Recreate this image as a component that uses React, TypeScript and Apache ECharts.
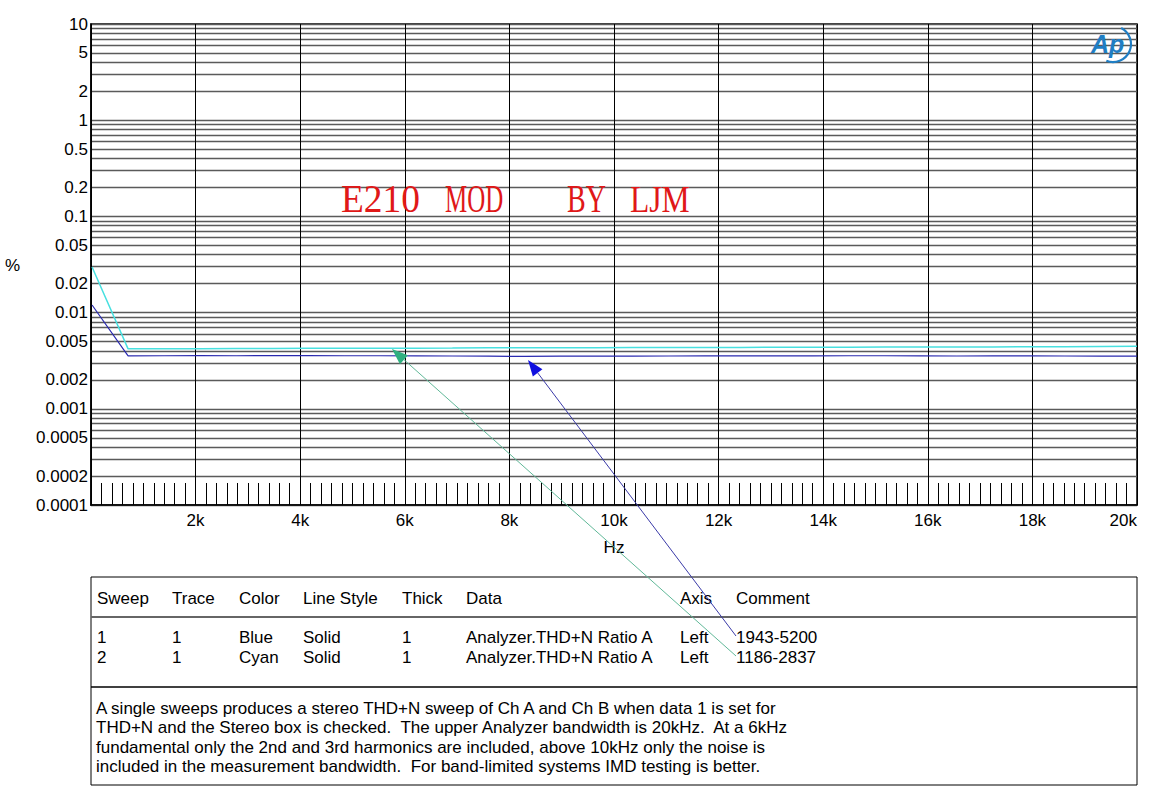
import React, { useEffect, useRef } from 'react';
import * as echarts from 'echarts';

// ---------- data ----------
const freqHz = [20, 709, 1398, 2087, 2776, 3465, 4154, 4843, 5532, 6221, 6910, 7599, 8288, 8977, 9666,
  10355, 11044, 11733, 12422, 13111, 13800, 14489, 15178, 15867, 16556, 17245, 17934, 18623, 19312, 20000];
const blueThd = [0.0120, 0.00355, 0.00356, 0.00357, 0.00356, 0.00357, 0.00357, 0.00356, 0.00356, 0.00355,
  0.00354, 0.00352, 0.00350, 0.00352, 0.00353, 0.00352, 0.00354, 0.00355, 0.00356, 0.00355,
  0.00355, 0.00356, 0.00356, 0.00355, 0.00354, 0.00355, 0.00355, 0.00354, 0.00353, 0.00353];
const cyanThd = [0.0298, 0.00420, 0.00421, 0.00422, 0.00423, 0.00424, 0.00425, 0.00426, 0.00426, 0.00427,
  0.00428, 0.00430, 0.00431, 0.00432, 0.00432, 0.00433, 0.00434, 0.00434, 0.00435, 0.00436,
  0.00436, 0.00437, 0.00438, 0.00439, 0.00440, 0.00440, 0.00441, 0.00442, 0.00444, 0.00446];

const yGridValues = [
  0.0001, 0.0002, 0.0003, 0.0004, 0.0005, 0.0006, 0.0007, 0.0008, 0.0009,
  0.001, 0.002, 0.003, 0.004, 0.005, 0.006, 0.007, 0.008, 0.009,
  0.01, 0.02, 0.03, 0.04, 0.05, 0.06, 0.07, 0.08, 0.09,
  0.1, 0.2, 0.3, 0.4, 0.5, 0.6, 0.7, 0.8, 0.9,
  1, 2, 3, 4, 5, 6, 7, 8, 9, 10,
];
const yLabelValues = [10, 5, 2, 1, 0.5, 0.2, 0.1, 0.05, 0.02, 0.01, 0.005, 0.002, 0.001, 0.0005, 0.0002, 0.0001];
const xMin = 0;
const xMax = 20000;
const xInterval = 2000;

const tableHeaders = ['Sweep', 'Trace', 'Color', 'Line Style', 'Thick', 'Data', 'Axis', 'Comment'];
const tableRows = [
  ['1', '1', 'Blue', 'Solid', '1', 'Analyzer.THD+N Ratio A', 'Left', '1943-5200'],
  ['2', '1', 'Cyan', 'Solid', '1', 'Analyzer.THD+N Ratio A', 'Left', '1186-2837'],
];
const noteLines = [
  'A single sweeps produces a stereo THD+N sweep of Ch A and Ch B when data 1 is set for',
  'THD+N and the Stereo box is checked.  The upper Analyzer bandwidth is 20kHz.  At a 6kHz',
  'fundamental only the 2nd and 3rd harmonics are included, above 10kHz only the noise is',
  'included in the measurement bandwidth.  For band-limited systems IMD testing is better.',
];
const titleWords = ['E210', 'MOD', 'BY', 'LJM'];

// ---------- layout ----------
const colX = [97, 172, 239, 303, 402, 466, 680, 736];
const titleX = [341, 445, 567, 630];
const titleScale = [0.96, 0.64, 0.72, 0.81];
const FONT = 'Liberation Sans, Arial, sans-serif';
const FS = 17;

function arrow(tail: number[], tip: number[], lineColor: string, headColor: string) {
  const dx = tip[0] - tail[0];
  const dy = tip[1] - tail[1];
  const len = Math.sqrt(dx * dx + dy * dy);
  const ux = dx / len;
  const uy = dy / len;
  const hl = 16;
  const hw = 6;
  const bx = tip[0] - ux * hl;
  const by = tip[1] - uy * hl;
  const nx = -uy;
  const ny = ux;
  return [
    {
      type: 'line',
      shape: { x1: tail[0], y1: tail[1], x2: bx, y2: by },
      style: { stroke: lineColor, lineWidth: 1 },
      z: 100,
    },
    {
      type: 'polygon',
      shape: { points: [tip, [bx + nx * hw, by + ny * hw], [bx - nx * hw, by - ny * hw]] },
      style: { fill: headColor },
      z: 100,
    },
  ];
}

export default function App() {
  const ref = useRef<HTMLDivElement>(null);
  useEffect(() => {
    document.body.style.margin = '0';
    const chart = echarts.init(ref.current!, undefined, { renderer: 'svg' });

    const graphics: any[] = [];
    // y-axis unit
    graphics.push({ type: 'text', x: 5, y: 265, style: { text: '%', font: `${FS}px ${FONT}`, fill: '#000', verticalAlign: 'middle' } });
    // red title
    titleWords.forEach((w, i) => {
      graphics.push({
        type: 'text', x: titleX[i], y: 199, scaleX: titleScale[i],
        style: { text: w, font: `39px "Liberation Serif", serif`, fill: '#e01818', verticalAlign: 'middle' },
        z: 50,
      });
    });
    // logo
    graphics.push({
      type: 'text', x: 1091, y: 44,
      style: { text: 'Ap', font: `italic bold 25px ${FONT}`, fill: '#1f7ec4', verticalAlign: 'middle' },
      z: 60,
    });
    graphics.push({
      type: 'arc', shape: { cx: 1113, cy: 44, r: 18, startAngle: -1.1, endAngle: 1.95 },
      style: { stroke: '#1f7ec4', lineWidth: 2.2, fill: 'none' }, z: 60,
    });
    // table
    graphics.push({ type: 'rect', shape: { x: 91, y: 577, width: 1046, height: 208 }, style: { stroke: '#000', lineWidth: 1, fill: 'none' } });
    graphics.push({ type: 'line', shape: { x1: 91, y1: 617, x2: 1137, y2: 617 }, style: { stroke: '#666', lineWidth: 2 } });
    graphics.push({ type: 'line', shape: { x1: 91, y1: 687, x2: 1137, y2: 687 }, style: { stroke: '#000', lineWidth: 1.5 } });
    tableHeaders.forEach((h, i) => {
      graphics.push({ type: 'text', x: colX[i], y: 598, style: { text: h, font: `${FS}px ${FONT}`, fill: '#000', verticalAlign: 'middle' } });
    });
    tableRows.forEach((row, r) => {
      row.forEach((c, i) => {
        graphics.push({ type: 'text', x: colX[i], y: 637 + r * 20, style: { text: c, font: `${FS}px ${FONT}`, fill: '#000', verticalAlign: 'middle' } });
      });
    });
    noteLines.forEach((t, i) => {
      graphics.push({ type: 'text', x: 96, y: 708 + i * 19.6, style: { text: t, font: `${FS}px ${FONT}`, fill: '#000', verticalAlign: 'middle' } });
    });
    // arrows
    graphics.push(...arrow([736, 636], [528, 360], '#3a3aa8', '#1010e0'));
    graphics.push(...arrow([736, 656], [392, 349], '#60b898', '#30b080'));

    chart.setOption({
      animation: false,
      backgroundColor: '#fff',
      textStyle: { fontFamily: FONT },
      grid: { left: 91, right: 27, top: 24, height: 481, show: true, borderColor: '#000', borderWidth: 1.5, outerBoundsMode: 'none' },
      xAxis: {
        type: 'value', min: xMin, max: xMax, interval: xInterval,
        name: 'Hz', nameLocation: 'middle', nameGap: 34, nameTextStyle: { fontSize: FS, color: '#000' },
        axisLine: { show: true, lineStyle: { color: '#000', width: 1.5 } },
        axisTick: { show: false, inside: true },
        minorTick: { show: true, splitNumber: 10, length: 22, lineStyle: { color: '#000', width: 1 } },
        splitLine: { show: true, lineStyle: { color: '#000', width: 1 } },
        axisLabel: {
          fontSize: FS, color: '#000', margin: 7, showMinLabel: false, alignMaxLabel: 'right',
          formatter: (v: number) => `${v / 1000}k`,
        },
      },
      yAxis: {
        type: 'log', min: 0.0001, max: 10, logBase: 10,
        axisLine: { show: true, lineStyle: { color: '#000', width: 1.5 } },
        axisTick: { show: false, customValues: yGridValues },
        splitLine: { show: true, lineStyle: { color: '#5a5a5a', width: 1.4 } },
        axisLabel: {
          fontSize: FS, color: '#000', margin: 3, customValues: yLabelValues,
          formatter: (v: number) => String(v),
        },
      },
      series: [
        {
          name: 'Cyan', type: 'line', symbol: 'none', silent: true,
          lineStyle: { color: '#48e0e0', width: 1.5 },
          data: freqHz.map((f, i) => [f, cyanThd[i]]), z: 3,
        },
        {
          name: 'Blue', type: 'line', symbol: 'none', silent: true,
          lineStyle: { color: '#2a2ab0', width: 1.2 },
          data: freqHz.map((f, i) => [f, blueThd[i]]), z: 4,
        },
      ],
      graphic: { elements: graphics },
    });
    return () => chart.dispose();
  }, []);
  return <div ref={ref} style={{ width: 1164, height: 797 }} />;
}
